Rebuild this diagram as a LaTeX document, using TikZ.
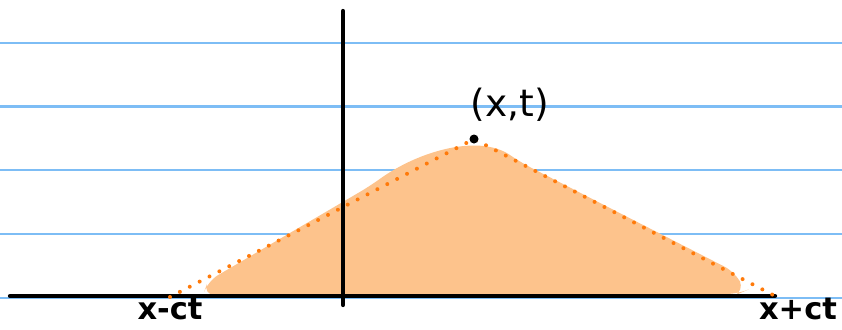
\documentclass[tikz,border=0pt]{standalone}
\usepackage{xcolor}
\usepackage{fontspec}
\setmainfont{DejaVu Sans}
\usepackage{tikz}

\definecolor{ruleblue}{HTML}{7DBDF5}
\definecolor{conefill}{HTML}{FDC38C}
\definecolor{conedot}{HTML}{FF7A0A}

\begin{document}
\begin{tikzpicture}[x=0.03cm, y=-0.03cm]
    \useasboundingbox (0, 0) rectangle (842, 329);

    % notebook lines
    \foreach \yy in {43, 106.5, 170, 234, 298}
        \draw[ruleblue, line width=1.8pt] (0, \yy) -- (842, \yy);

    % shaded region
    \fill[conefill, rounded corners=10pt] (203, 295) -- (208, 281) -- (370, 186)
        .. controls (420, 150) and (480, 134) .. (520, 162)
        -- (735, 272) -- (745, 291) -- (738, 294) -- cycle;

    % axes
    \coordinate (L) at (10, 296);
    \coordinate (R) at (775, 296);
    \coordinate (T) at (343, 11);
    \coordinate (B) at (343, 305);
    \draw[line width=3.6pt, line cap=round] (L) -- (R);
    \draw[line width=3.6pt, line cap=round] (T) -- (B);

    % point and dotted sides
    \coordinate (P) at (474, 139);
    \coordinate (A) at (170, 297);
    \draw[conedot, line width=3.4pt, dash pattern=on 0pt off 9.5pt, line cap=round] (A) -- (P) -- (R);
    \fill (P) circle (4.5);

    \node at (510, 105) (pt) {\fontsize{32}{36}\selectfont (x,t)};
    \node at (170, 309) (lft) {\fontsize{26}{30}\bfseries\selectfont x-ct};
    \node[anchor=east] at (841, 309) (rgt) {\fontsize{26}{30}\bfseries\selectfont x+ct};
\end{tikzpicture}
\end{document}
